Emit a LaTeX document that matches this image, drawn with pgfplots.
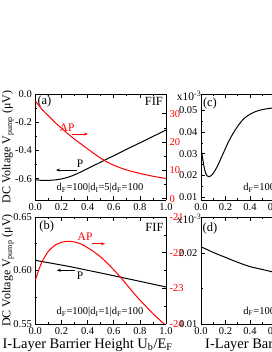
\documentclass[border=0pt]{standalone}
\usepackage{fontspec}
\setmainfont{Liberation Serif}
\usepackage{pgfplots}
\pgfplotsset{compat=1.18}
\usetikzlibrary{arrows.meta}

\tikzset{
  ann/.style={font=\fontsize{12.5}{14}\selectfont},
  dl/.style={font=\fontsize{10.5}{12}\selectfont},
}
\pgfplotsset{
  base/.style={
    scale only axis, xmin=0, xmax=1,
    xtick={0,0.2,0.4,0.6,0.8,1.0},
    minor tick num=1,
    tick align=inside,
    major tick length=4pt, minor tick length=2pt,
    every tick/.style={black, line width=0.6pt},
    axis line style={line width=0.8pt},
    scaled ticks=false,
    clip mode=individual,
    /pgf/number format/assume math mode=true,
    ticklabel style={font=\fontsize{10.5}{12}\selectfont},
    xticklabel style={/pgf/number format/fixed, /pgf/number format/fixed zerofill, /pgf/number format/precision=1},
    every axis y label/.style={at={([xshift=-27.3pt]rel axis cs:0,0.5)}, rotate=90, anchor=center, font=\fontsize{12}{14}\selectfont},
  },
}

\begin{document}
\begin{tikzpicture}

% ---------- (a) left axis: P ----------
\begin{axis}[base, at={(35.3pt,152pt)}, anchor=south west,
  width=130.7pt, height=106pt,
  ymin=-0.75, ymax=0, ytick={-0.6,-0.4,-0.2,0.0},
  axis y line*=left,
  yticklabel style={/pgf/number format/fixed, /pgf/number format/fixed zerofill, /pgf/number format/precision=1},
  ylabel={DC Voltage V\textsubscript{pump} (μV)}]
\addplot[black, line width=1pt, smooth] coordinates {
(0,-0.607) (0.05,-0.611) (0.1,-0.611) (0.15,-0.608) (0.2,-0.601) (0.25,-0.589)
(0.3,-0.572) (0.35,-0.551) (0.4,-0.528) (0.45,-0.505) (0.5,-0.482) (0.55,-0.459)
(0.6,-0.437) (0.65,-0.414) (0.7,-0.391) (0.75,-0.368) (0.8,-0.346) (0.85,-0.323)
(0.9,-0.300) (0.95,-0.278) (1.0,-0.255)};
\node[ann] at (rel axis cs:0.070,0.927) {(a)};
\node[ann] at (rel axis cs:0.907,0.927) {FIF};
\node[dl, anchor=base] at (rel axis cs:0.495,0.085) {d\textsubscript{F}=100|d\textsubscript{I}=5|d\textsubscript{F}=100};
\node[font=\fontsize{11.5}{13}\selectfont] at (axis cs:0.342,-0.49) {P};
\draw[black, line width=0.6pt, -{Stealth[length=4pt,width=3pt]}] (axis cs:0.319,-0.538) -- (axis cs:0.158,-0.538);
\end{axis}

% ---------- (a) right axis: AP ----------
\begin{axis}[base, at={(35.3pt,152pt)}, anchor=south west,
  width=130.7pt, height=106pt,
  ymin=-0.5, ymax=37, ytick={0,10,20,30},
  axis y line*=right, axis x line=none,
  yticklabel style={red}]
\addplot[red, line width=1pt, smooth] coordinates {
(0,34.5) (0.05,31.6) (0.1,29.3) (0.15,27.0) (0.2,24.9) (0.25,22.9)
(0.3,21.0) (0.35,19.3) (0.4,17.6) (0.45,15.9) (0.5,14.3) (0.55,12.9)
(0.6,11.8) (0.65,10.9) (0.7,10.1) (0.75,9.5) (0.8,8.9) (0.85,8.4)
(0.9,7.9) (0.95,7.5) (1.0,7.1)};
\node[red, font=\fontsize{11.5}{13}\selectfont] at (axis cs:0.243,25.0) {AP};
\draw[red, line width=0.6pt, -{Stealth[length=4pt,width=3pt]}] (axis cs:0.281,22.85) -- (axis cs:0.403,22.85);
\end{axis}

% ---------- (b) left axis: P ----------
\begin{axis}[base, at={(35.3pt,28pt)}, anchor=south west,
  width=130.7pt, height=107pt,
  ymin=0.55, ymax=0.65, ytick={0.55,0.60,0.65},
  axis y line*=left,
  yticklabel style={/pgf/number format/fixed, /pgf/number format/fixed zerofill, /pgf/number format/precision=2},
  ylabel={DC Voltage V\textsubscript{pump} (μV)},
  xlabel={I-Layer Barrier Height U\textsubscript{b}/E\textsubscript{F}},
  xlabel style={at={(rel axis cs:0.4,0)}, anchor=base, yshift=-24.3pt, font=\fontsize{14.5}{16}\selectfont}]
\addplot[black, line width=1pt] coordinates {
(0,0.6095) (0.25,0.6040) (0.5,0.5977) (0.75,0.5912) (1.0,0.5846)};
\node[ann] at (rel axis cs:0.087,0.907) {(b)};
\node[ann] at (rel axis cs:0.912,0.907) {FIF};
\node[dl, anchor=base] at (rel axis cs:0.495,0.087) {d\textsubscript{F}=100|d\textsubscript{I}=1|d\textsubscript{F}=100};
\node[font=\fontsize{11.5}{13}\selectfont] at (axis cs:0.342,0.5955) {P};
\draw[black, line width=0.6pt, -{Stealth[length=4pt,width=3pt]}] (axis cs:0.304,0.6002) -- (axis cs:0.164,0.6002);
\end{axis}

% ---------- (b) right axis: AP ----------
\begin{axis}[base, at={(35.3pt,28pt)}, anchor=south west,
  width=130.7pt, height=107pt,
  ymin=-24, ymax=-21, ytick={-24,-23,-22,-21},
  axis y line*=right, axis x line=none,
  yticklabel style={red}]
\addplot[red, line width=1pt, smooth] coordinates {
(0,-22.77) (0.02,-22.55) (0.04,-22.35) (0.06,-22.20) (0.08,-22.07) (0.10,-21.96)
(0.125,-21.87) (0.15,-21.79) (0.2,-21.71) (0.25,-21.68) (0.3,-21.70) (0.35,-21.76)
(0.4,-21.86) (0.45,-21.98) (0.5,-22.12) (0.55,-22.29) (0.6,-22.48) (0.65,-22.68)
(0.7,-22.90) (0.75,-23.12) (0.8,-23.33) (0.85,-23.52) (0.9,-23.71) (0.95,-23.88) (1.0,-24.05)};
\node[red, font=\fontsize{11.5}{13}\selectfont] at (axis cs:0.381,-21.56) {AP};
\draw[red, line width=0.6pt, -{Stealth[length=4pt,width=3pt]}] (axis cs:0.431,-21.75) -- (axis cs:0.533,-21.75);
\end{axis}

% ---------- (c) ----------
\begin{axis}[base, at={(201pt,152pt)}, anchor=south west,
  width=122.5pt, height=106pt,
  ymin=0.0087, ymax=0.0575, ytick={0.01,0.02,0.03,0.04,0.05},
  yticklabel style={/pgf/number format/fixed, /pgf/number format/fixed zerofill, /pgf/number format/precision=2}]
\addplot[black, line width=1pt, smooth] coordinates {
(0,0.0330) (0.01,0.0290) (0.02,0.0255) (0.03,0.0227) (0.04,0.0208) (0.05,0.0198)
(0.065,0.0194) (0.08,0.0198) (0.1,0.0210) (0.12,0.0228) (0.14,0.0250) (0.16,0.0275)
(0.18,0.0300) (0.2,0.0325) (0.22,0.0350) (0.25,0.0382) (0.28,0.0410) (0.3,0.0427)
(0.33,0.0449) (0.36,0.0466) (0.4,0.0482) (0.45,0.0495) (0.5,0.0503) (0.55,0.0508)
(0.6,0.0511) (0.7,0.0514) (0.8,0.0515)};
\node[ann] at (rel axis cs:0.073,0.912) {(c)};
\node[dl, anchor=base west] at (rel axis cs:0.318,0.085) {d\textsubscript{F}=100|d\textsubscript{I}=5|d\textsubscript{F}=100};
\node[font=\fontsize{11.5}{13}\selectfont, anchor=east, inner sep=0pt] at (rel axis cs:0.005,0.985) {x10\textsuperscript{-3}};
\end{axis}

% ---------- (d) ----------
\begin{axis}[base, at={(201pt,28pt)}, anchor=south west,
  width=122.5pt, height=107pt,
  ymin=0.01, ymax=0.0251, ytick={0.01,0.02},
  yticklabel style={/pgf/number format/fixed, /pgf/number format/fixed zerofill, /pgf/number format/precision=2},
  xlabel={I-Layer Barrier Height U\textsubscript{b}/E\textsubscript{F}},
  xlabel style={at={(rel axis cs:0,0)}, anchor=base west, xshift=0.7pt, yshift=-24.3pt, font=\fontsize{14.5}{16}\selectfont}]
\addplot[black, line width=1pt, smooth] coordinates {
(0,0.0209) (0.1,0.0201) (0.2,0.0194) (0.3,0.0187) (0.4,0.0181) (0.5,0.0177)
(0.6,0.0173) (0.8,0.0167) (1.0,0.0162)};
\node[ann] at (rel axis cs:0.073,0.894) {(d)};
\node[dl, anchor=base west] at (rel axis cs:0.318,0.093) {d\textsubscript{F}=100|d\textsubscript{I}=1|d\textsubscript{F}=100};
\node[font=\fontsize{11.5}{13}\selectfont, anchor=east, inner sep=0pt] at (rel axis cs:0.005,0.985) {x10\textsuperscript{-3}};
\end{axis}

\pgfresetboundingbox
\useasboundingbox (0,0) rectangle (272pt,352pt);
\end{tikzpicture}
\end{document}
